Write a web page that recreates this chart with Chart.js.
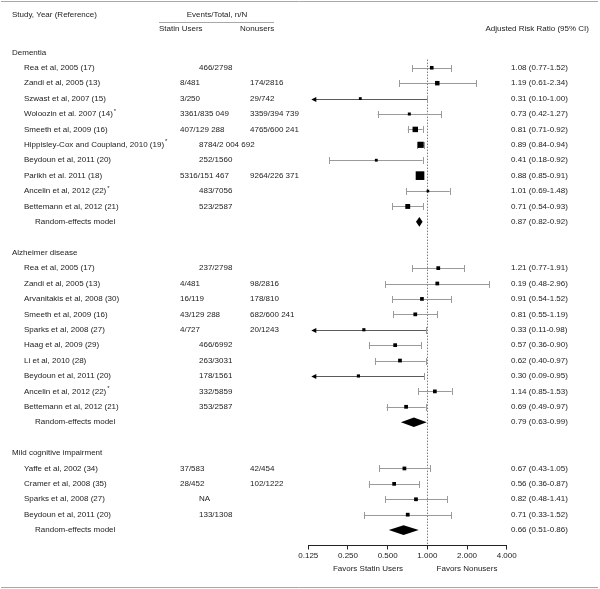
<!DOCTYPE html>
<html>
<head>
<meta charset="utf-8">
<script src="https://cdn.jsdelivr.net/npm/chart.js@4/dist/chart.umd.min.js"></script>
<style>
html,body{margin:0;padding:0;background:#fff;}
#wrap{width:600px;height:589px;position:relative;}
</style>
</head>
<body>
<div id="wrap"><canvas id="c" width="600" height="589"></canvas></div>
<script>
// ---------- DATA ----------
const sectionNames = ["Dementia", "Alzheimer disease", "Mild cognitive impairment"];
const sectionRows = [0, 13, 26];

const studyLabels = [
  "Rea et al, 2005 (17)", "Zandi et al, 2005 (13)", "Szwast et al, 2007 (15)",
  "Woloozin et al. 2007 (14)*", "Smeeth et al, 2009 (16)", "Hippisley-Cox and Coupland, 2010 (19)*",
  "Beydoun et al, 2011 (20)", "Parikh et al. 2011 (18)", "Ancelin et al, 2012 (22)*",
  "Bettemann et al, 2012 (21)",
  "Rea et al, 2005 (17)", "Zandi et al, 2005 (13)", "Arvanitakis et al, 2008 (30)",
  "Smeeth et al, 2009 (16)", "Sparks et al, 2008 (27)", "Haag et al, 2009 (29)",
  "Li et al, 2010 (28)", "Beydoun et al, 2011 (20)", "Ancelin et al, 2012 (22)*",
  "Bettemann et al, 2012 (21)",
  "Yaffe et al, 2002 (34)", "Cramer et al, 2008 (35)", "Sparks et al, 2008 (27)",
  "Beydoun et al, 2011 (20)"
];
const studyRows = [1,2,3,4,5,6,7,8,9,10, 14,15,16,17,18,19,20,21,22,23, 27,28,29,30];

const statinEvents = [
  "", "8/481", "3/250", "3361/835 049", "407/129 288", "", "", "5316/151 467", "", "",
  "", "4/481", "16/119", "43/129 288", "4/727", "", "", "", "", "",
  "37/583", "28/452", "", ""
];
const nonuserEvents = [
  "", "174/2816", "29/742", "3359/394 739", "4765/600 241", "", "", "9264/226 371", "", "",
  "", "98/2816", "178/810", "682/600 241", "20/1243", "", "", "", "", "",
  "42/454", "102/1222", "", ""
];
const pooledEvents = [
  "466/2798", "", "", "", "", "8784/2 004 692", "252/1560", "", "483/7056", "523/2587",
  "237/2798", "", "", "", "", "466/6992", "263/3031", "178/1561", "332/5859", "353/2587",
  "", "", "NA", "133/1308"
];

const riskRatio = [1.08, 1.19, 0.31, 0.73, 0.81, 0.89, 0.41, 0.88, 1.01, 0.71,
                   1.21, 1.19, 0.91, 0.81, 0.33, 0.57, 0.62, 0.30, 1.14, 0.69,
                   0.67, 0.56, 0.82, 0.71];
const ciLow  = [0.77, 0.61, 0.10, 0.42, 0.71, 0.84, 0.18, 0.85, 0.69, 0.54,
                0.77, 0.48, 0.54, 0.55, 0.11, 0.36, 0.40, 0.09, 0.85, 0.49,
                0.43, 0.36, 0.48, 0.33];
const ciHigh = [1.52, 2.34, 1.00, 1.27, 0.92, 0.94, 0.92, 0.91, 1.48, 0.93,
                1.91, 2.96, 1.52, 1.19, 0.98, 0.90, 0.97, 0.95, 1.53, 0.97,
                1.05, 0.87, 1.41, 1.52];
// relative study weights (marker area)
const weights = [13, 20, 8, 9, 30, 38, 8, 75, 7, 24,
                 14, 14, 14, 14, 10, 14, 14, 10, 14, 14,
                 14, 14, 14, 14];
const ratioText = [
  "1.08 (0.77-1.52)", "1.19 (0.61-2.34)", "0.31 (0.10-1.00)", "0.73 (0.42-1.27)",
  "0.81 (0.71-0.92)", "0.89 (0.84-0.94)", "0.41 (0.18-0.92)", "0.88 (0.85-0.91)",
  "1.01 (0.69-1.48)", "0.71 (0.54-0.93)",
  "1.21 (0.77-1.91)", "0.19 (0.48-2.96)", "0.91 (0.54-1.52)", "0.81 (0.55-1.19)",
  "0.33 (0.11-0.98)", "0.57 (0.36-0.90)", "0.62 (0.40-0.97)", "0.30 (0.09-0.95)",
  "1.14 (0.85-1.53)", "0.69 (0.49-0.97)",
  "0.67 (0.43-1.05)", "0.56 (0.36-0.87)", "0.82 (0.48-1.41)", "0.71 (0.33-1.52)"
];

const modelRows = [11, 24, 31];
const modelRatio = [0.87, 0.79, 0.66];
const modelLow = [0.82, 0.63, 0.51];
const modelHigh = [0.92, 0.99, 0.86];
const modelText = ["0.87 (0.82-0.92)", "0.79 (0.63-0.99)", "0.66 (0.51-0.86)"];

const xTicks = [0.125, 0.25, 0.5, 1, 2, 4];

// ---------- DRAWING ----------
const FONT = '"Liberation Sans", Arial, Helvetica, sans-serif';
const TXT = '#222';

function drawLabel(ctx, text, x, y) {
  if (text.endsWith('*')) {
    const main = text.slice(0, -1);
    ctx.fillText(main, x, y);
    const w = ctx.measureText(main).width;
    ctx.save();
    ctx.font = '6px ' + FONT;
    ctx.fillText('*', x + w + 1, y - 3);
    ctx.restore();
  } else {
    ctx.fillText(text, x, y);
  }
}

const forestPlugin = {
  id: 'forest',
  beforeDatasetsDraw(chart) {
    const { ctx, scales: { x, y } } = chart;
    ctx.save();
    const x1 = Math.round(x.getPixelForValue(1)) + 0.5;
    ctx.strokeStyle = '#7a7a7a';
    ctx.lineWidth = 1;
    ctx.setLineDash([1.5, 1.5]);
    ctx.beginPath();
    ctx.moveTo(x1, y.getPixelForValue(0.47));
    ctx.lineTo(x1, y.bottom);
    ctx.stroke();
    ctx.setLineDash([]);
    for (let i = 0; i < riskRatio.length; i++) {
      const py = Math.round(y.getPixelForValue(studyRows[i])) + 0.5;
      const trunc = ciLow[i] < x.min;
      const xl = trunc ? x.left + 5 : x.getPixelForValue(ciLow[i]);
      const xh = x.getPixelForValue(ciHigh[i]);
      ctx.strokeStyle = trunc ? '#5a5a5a' : '#9a9a9a';
      ctx.beginPath();
      ctx.moveTo(xl, py); ctx.lineTo(xh, py);
      ctx.stroke();
      ctx.strokeStyle = '#9a9a9a';
      ctx.beginPath();
      if (!trunc) {
        const cx = Math.round(xl) + 0.5;
        ctx.moveTo(cx, py - 3.5); ctx.lineTo(cx, py + 3.5);
      }
      const cx2 = Math.round(xh) + 0.5;
      ctx.moveTo(cx2, py - 3.5); ctx.lineTo(cx2, py + 3.5);
      ctx.stroke();
      if (trunc) {
        ctx.fillStyle = '#000';
        ctx.beginPath();
        ctx.moveTo(x.left + 3, py);
        ctx.lineTo(x.left + 8, py - 2.5);
        ctx.lineTo(x.left + 8, py + 2.5);
        ctx.closePath();
        ctx.fill();
      }
    }
    ctx.restore();
  },
  afterDatasetsDraw(chart) {
    const { ctx, scales: { x, y } } = chart;
    ctx.save();
    ctx.fillStyle = '#000';
    for (let i = 0; i < modelRows.length; i++) {
      const py = y.getPixelForValue(modelRows[i]);
      const h = 4.8;
      ctx.beginPath();
      ctx.moveTo(x.getPixelForValue(modelLow[i]), py);
      ctx.lineTo(x.getPixelForValue(modelRatio[i]), py - h);
      ctx.lineTo(x.getPixelForValue(modelHigh[i]), py);
      ctx.lineTo(x.getPixelForValue(modelRatio[i]), py + h);
      ctx.closePath();
      ctx.fill();
    }
    ctx.restore();
  },
  afterDraw(chart) {
    const { ctx, scales: { x, y } } = chart;
    ctx.save();
    ctx.strokeStyle = '#a8a8a8';
    ctx.lineWidth = 1;
    ctx.beginPath();
    ctx.moveTo(1, 1.5); ctx.lineTo(598, 1.5);
    ctx.moveTo(1, 587.5); ctx.lineTo(598, 587.5);
    ctx.moveTo(159, 22.5); ctx.lineTo(274, 22.5);
    ctx.stroke();

    ctx.font = '8px ' + FONT;
    ctx.fillStyle = TXT;
    ctx.textBaseline = 'middle';
    ctx.textAlign = 'left';
    ctx.fillText('Study, Year (Reference)', 12, 15);
    ctx.fillText('Statin Users', 159, 29);
    ctx.fillText('Nonusers', 240, 29);
    ctx.textAlign = 'center';
    ctx.fillText('Events/Total, n/N', 217, 15);
    ctx.textAlign = 'right';
    ctx.fillText('Adjusted Risk Ratio (95% CI)', 589, 29);
    ctx.textAlign = 'left';

    sectionNames.forEach((s, i) => ctx.fillText(s, 12, y.getPixelForValue(sectionRows[i])));
    for (let i = 0; i < studyLabels.length; i++) {
      const py = y.getPixelForValue(studyRows[i]);
      drawLabel(ctx, studyLabels[i], 24, py);
      if (statinEvents[i]) ctx.fillText(statinEvents[i], 180, py);
      if (nonuserEvents[i]) ctx.fillText(nonuserEvents[i], 250, py);
      if (pooledEvents[i]) ctx.fillText(pooledEvents[i], 199, py);
      ctx.fillText(ratioText[i], 511, py);
    }
    for (let i = 0; i < modelRows.length; i++) {
      const py = y.getPixelForValue(modelRows[i]);
      ctx.fillText('Random-effects model', 35, py);
      ctx.fillText(modelText[i], 511, py);
    }
    ctx.textAlign = 'center';
    ctx.fillText('Favors Statin Users', 368, 569);
    ctx.fillText('Favors Nonusers', 467, 569);
    ctx.restore();
  }
};

const pointData = riskRatio.map((v, i) => ({ x: v, y: studyRows[i] }));
const pointSizes = weights.map(w => Math.sqrt(w) / Math.SQRT2);

new Chart(document.getElementById('c'), {
  type: 'scatter',
  data: {
    datasets: [{
      data: pointData,
      pointStyle: 'rect',
      pointRadius: pointSizes,
      pointBackgroundColor: '#000',
      pointBorderWidth: 0,
      borderWidth: 0,
      clip: false
    }]
  },
  options: {
    responsive: false,
    animation: false,
    devicePixelRatio: 1,
    layout: { padding: { left: 308.3, right: 93.3, top: 1, bottom: 0 } },
    plugins: { legend: { display: false }, tooltip: { enabled: false } },
    scales: {
      x: {
        type: 'logarithmic',
        min: 0.125,
        max: 4,
        afterBuildTicks: s => { s.ticks = xTicks.map(v => ({ value: v })); },
        afterFit: s => { s.height = 43.5; },
        border: { display: true, color: '#222', width: 1 },
        grid: { display: true, drawOnChartArea: false, drawTicks: true, tickLength: 4, color: '#222' },
        ticks: {
          callback: v => Number(v).toFixed(3),
          font: { size: 8, family: FONT },
          color: TXT,
          padding: 1,
          autoSkip: false,
          maxRotation: 0
        }
      },
      y: { type: 'linear', min: -3, max: 32, reverse: true, display: false }
    }
  },
  plugins: [forestPlugin]
});
</script>
</body>
</html>
